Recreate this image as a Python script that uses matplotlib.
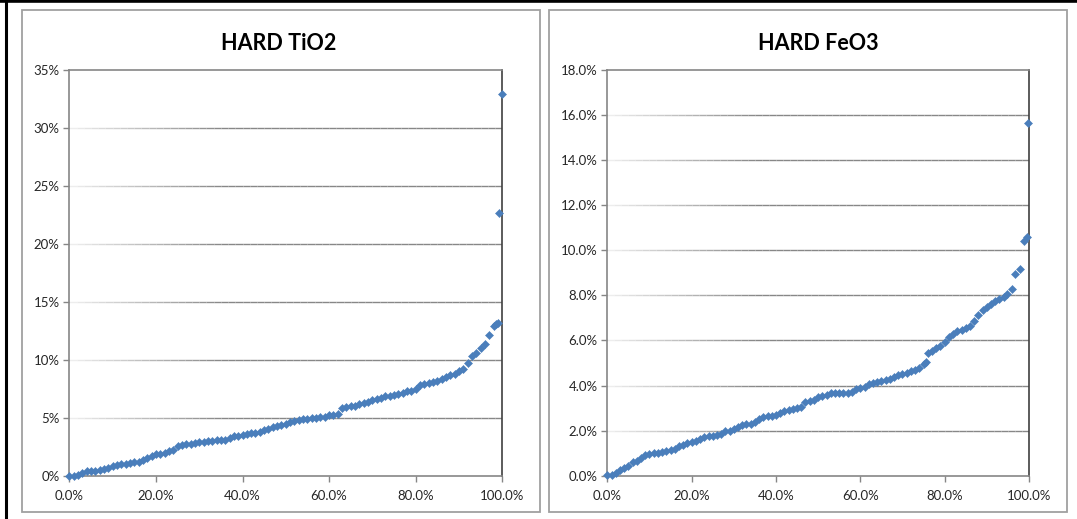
import numpy as np
import matplotlib
matplotlib.use("Agg")
import matplotlib.pyplot as plt
from matplotlib.collections import LineCollection
from matplotlib.patches import Rectangle
from matplotlib.lines import Line2D
from matplotlib.ticker import FuncFormatter

plt.rcParams['font.family'] = ['Lato', 'DejaVu Sans']

# ---------------- data (percent) ----------------
tio2_x = [0, 1, 2, 3, 4, 5, 6, 7, 8, 9,
          10, 11, 12, 13, 14, 15, 16, 17, 18, 19,
          20, 21, 22, 23, 24, 25, 26, 27, 28, 29,
          30, 31, 32, 33, 34, 35, 36, 37, 38, 39,
          40, 41, 42, 43, 44, 45, 46, 47, 48, 49,
          50, 51, 52, 53, 54, 55, 56, 57, 58, 59,
          60, 61, 62, 63, 64, 65, 66, 67, 68, 69,
          70, 71, 72, 73, 74, 75, 76, 77, 78, 79,
          80, 81, 82, 83, 84, 85, 86, 87, 88, 89,
          90, 91, 92, 93, 94, 95, 96, 97, 98, 98.6, 99.1, 99.3, 100]
tio2_y = [0.0, 0.0, 0.05, 0.2, 0.4, 0.4, 0.4, 0.45, 0.6, 0.7,
          0.85, 0.95, 1.0, 1.05, 1.1, 1.15, 1.15, 1.35, 1.55, 1.7,
          1.85, 1.9, 2.0, 2.1, 2.2, 2.6, 2.65, 2.7, 2.75, 2.8,
          2.9, 2.95, 3.0, 3.0, 3.05, 3.05, 3.1, 3.25, 3.4, 3.45,
          3.5, 3.6, 3.65, 3.7, 3.8, 3.9, 4.05, 4.2, 4.3, 4.4,
          4.5, 4.6, 4.7, 4.8, 4.9, 4.9, 4.95, 5.0, 5.05, 5.1,
          5.2, 5.25, 5.3, 5.8, 5.9, 6.0, 6.05, 6.2, 6.3, 6.4,
          6.5, 6.6, 6.7, 6.85, 6.9, 6.95, 7.05, 7.15, 7.3, 7.35,
          7.5, 7.8, 7.9, 8.0, 8.1, 8.2, 8.3, 8.5, 8.65, 8.8,
          9.0, 9.2, 9.7, 10.35, 10.6, 11.0, 11.4, 12.1, 12.9, 13.05, 13.2, 22.7, 32.9]

feo3_x = [0, 1, 2, 3, 4, 5, 6, 7, 8, 9,
          10, 11, 12, 13, 14, 15, 16, 17, 18, 19,
          20, 21, 22, 23, 24, 25, 26, 27, 28, 29,
          30, 31, 32, 33, 34, 35, 36, 37, 38, 39,
          40, 41, 42, 43, 44, 45, 46, 47, 48, 49,
          50, 51, 52, 53, 54, 55, 56, 57, 58, 59,
          60, 61, 62, 63, 64, 65, 66, 67, 68, 69,
          70, 71, 72, 73, 74, 75, 75.5, 76, 77, 78, 79,
          80, 81, 82, 83, 84, 85, 86, 87, 88, 89,
          90, 91, 92, 93, 94, 94.7, 95.9, 96.7, 97.9, 98.7, 99.5, 99.8]
feo3_y = [0.05, 0.05, 0.1, 0.25, 0.35, 0.45, 0.6, 0.65, 0.8, 0.9,
          0.95, 1.0, 1.0, 1.05, 1.1, 1.15, 1.2, 1.3, 1.35, 1.45,
          1.5, 1.55, 1.65, 1.7, 1.75, 1.75, 1.8, 1.85, 2.0, 2.0,
          2.05, 2.15, 2.25, 2.3, 2.3, 2.4, 2.5, 2.6, 2.65, 2.65,
          2.7, 2.8, 2.85, 2.9, 2.95, 3.0, 3.05, 3.25, 3.3, 3.35,
          3.5, 3.55, 3.6, 3.65, 3.65, 3.65, 3.65, 3.65, 3.7, 3.85,
          3.9, 3.95, 4.05, 4.1, 4.15, 4.2, 4.25, 4.3, 4.4, 4.45,
          4.5, 4.55, 4.65, 4.7, 4.8, 4.95, 5.05, 5.45, 5.55, 5.65, 5.75,
          5.95, 6.15, 6.3, 6.4, 6.45, 6.55, 6.65, 6.85, 7.15, 7.35,
          7.5, 7.6, 7.75, 7.85, 7.95, 8.05, 8.3, 8.95, 9.15, 10.4, 10.6, 15.65]

titles = ["HARD TiO2", "HARD FeO3"]
y_ticks_left = [0, 5, 10, 15, 20, 25, 30, 35]
y_ticks_right = [0, 2, 4, 6, 8, 10, 12, 14, 16, 18]
x_ticks = [0, 20, 40, 60, 80, 100]

# ---------------- figure ----------------
W, H = 1077, 519
fig = plt.figure(figsize=(W / 100, H / 100), dpi=100)
fig.patch.set_facecolor('white')

def fx(px):
    return px / W

def fy(py):
    return 1 - py / H

# outer black border lines (top and left)
fig.add_artist(Line2D([0, 1], [fy(1), fy(1)], transform=fig.transFigure, color='black', lw=2.6))
fig.add_artist(Line2D([fx(5.5), fx(5.5)], [0, 1], transform=fig.transFigure, color='black', lw=2.2))

# panel frames
for (x0, x1) in [(22, 540), (549, 1067)]:
    fig.add_artist(Rectangle((fx(x0), fy(512)), fx(x1) - fx(x0), fy(10) - fy(512),
                             transform=fig.transFigure, fill=False, edgecolor='#a0a0a0', lw=1.3))

marker_color = '#4A7EBB'

def make_axes(px_left, px_right, yticks, fmt_y, xs, ys, title, title_x):
    ax = fig.add_axes([fx(px_left), fy(475.7), fx(px_right) - fx(px_left), fy(70) - fy(475.7)])
    ax.set_xlim(0, 100)
    ax.set_ylim(yticks[0], yticks[-1])
    # gradient gridlines
    n = 60
    xs_seg = np.linspace(0, 100, n + 1)
    for yt in yticks[1:-1]:
        segs = [[(xs_seg[i], yt), (xs_seg[i + 1], yt)] for i in range(n)]
        t = np.clip(np.linspace(0, 1, n) / 0.35, 0, 1)
        g = 0.93 - 0.40 * t
        cols = [(gi, gi, gi) for gi in g]
        ax.add_collection(LineCollection(segs, colors=cols, linewidths=1.0, zorder=1))
    ax.plot(xs, ys, linestyle='none', marker='D', markersize=4.3, markeredgewidth=0.4,
            markeredgecolor=marker_color, color=marker_color, zorder=3, clip_on=False)
    ax.set_yticks(yticks)
    ax.set_xticks(x_ticks)
    ax.yaxis.set_major_formatter(FuncFormatter(fmt_y))
    ax.xaxis.set_major_formatter(FuncFormatter(lambda v, p: f"{v:.1f}%"))
    ax.tick_params(axis='both', direction='out', length=4, width=1, color='#868686',
                   labelsize=9.5, labelcolor='#262626', pad=3)
    ax.tick_params(axis='x', pad=6)
    for s in ['left', 'bottom', 'top']:
        ax.spines[s].set_color('#868686')
        ax.spines[s].set_linewidth(1.2)
    ax.spines['right'].set_color('#404040')
    ax.spines['right'].set_linewidth(1.2)
    fig.text(fx(title_x), fy(43), title, ha='center', va='center',
             fontsize=15.5, fontweight='bold', color='black')
    return ax

make_axes(69.3, 502.3, y_ticks_left, lambda v, p: f"{v:.0f}%", tio2_x, tio2_y, titles[0], 279)
make_axes(607.3, 1029, y_ticks_right, lambda v, p: f"{v:.1f}%", feo3_x, feo3_y, titles[1], 818)

fig.savefig("out.png", dpi=100, facecolor='white')
